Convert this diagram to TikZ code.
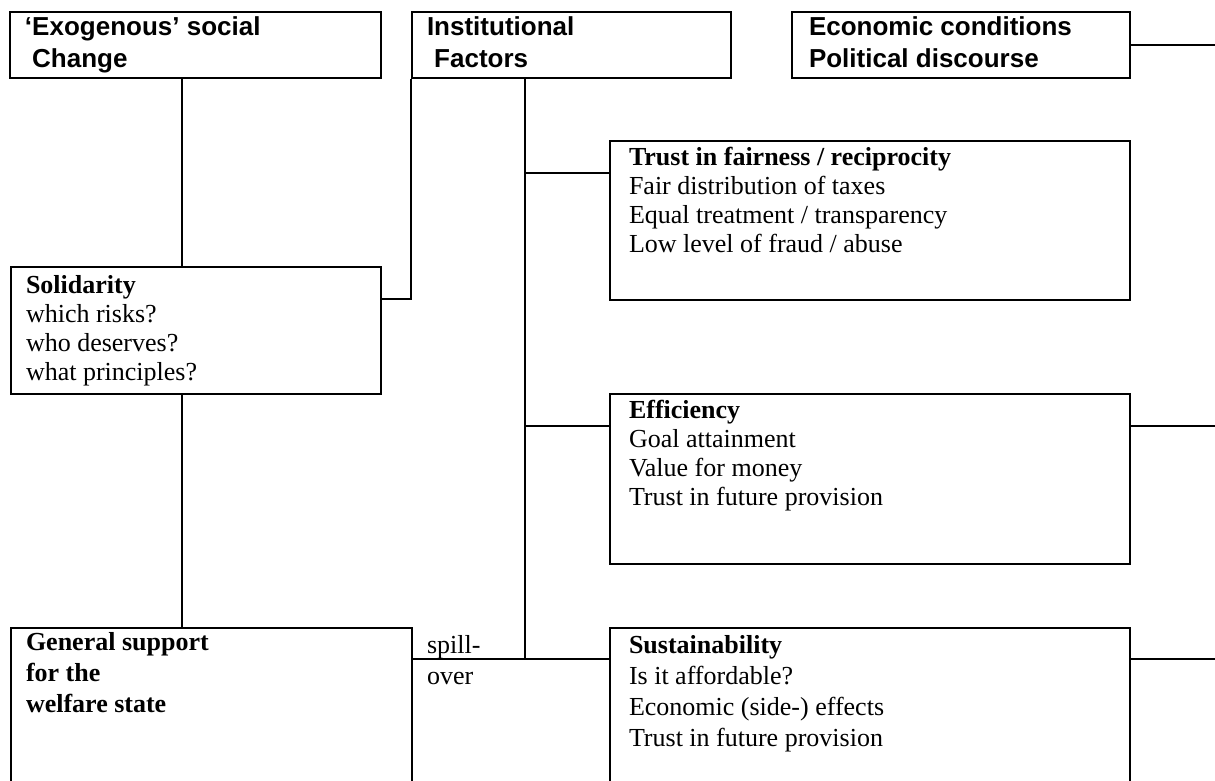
\documentclass[tikz,border=0pt]{standalone}
\usepackage{fontspec}
\setmainfont{Liberation Serif}
\newfontfamily\arialfont{Liberation Sans}

\begin{document}
\begin{tikzpicture}[x=0.5pt, y=-0.5pt, line width=1pt, black]

  \tikzstyle{box}=[draw, rectangle, anchor=north west, inner sep=0pt]
  \tikzstyle{head}=[anchor=base west, inner sep=0pt, align=left, font=\arialfont\bfseries\fontsize{13pt}{16pt}\selectfont]
  \tikzstyle{txt}=[anchor=base west, inner sep=0pt, align=left, font=\fontsize{13pt}{14.5pt}\selectfont]
  \tikzstyle{txtlow}=[txt, font=\fontsize{13pt}{15.5pt}\selectfont]

  \useasboundingbox (0,0) rectangle (1215,781);
  \clip (0,0) rectangle (1215,781);

  % top row (text nodes sit on their last baseline)
  \node[box, minimum width=185.5pt, minimum height=33pt] at (9,11) (exo) {};
  \node[box, minimum width=159.5pt, minimum height=33pt] at (411,11) (inst) {};
  \node[box, minimum width=169pt, minimum height=33pt] at (791,11) (econ) {};

  \node[head] at (24,68) (exoT) {‘Exogenous’ social\\\hspace*{3.6pt}Change};
  \node[head] at (426,68) (instT) {Institutional\\\hspace*{3.6pt}Factors};
  \node[head] at (808,68) (econT) {Economic conditions\\Political discourse};

  % left column
  \node[box, minimum width=185pt, minimum height=63.5pt] at (10,266) (solid) {};
  \node[box, minimum width=200.5pt, minimum height=100pt] at (10,627) (general) {};

  \node[txt] at (25,380) (solidT) {\textbf{Solidarity}\\which risks?\\who deserves?\\what principles?};
  \node[txtlow] at (25,712) (generalT) {\textbf{General support}\\\textbf{for the}\\\textbf{welfare state}};
  \node[txtlow] at (426,684) (spillT) {spill-\\over};

  % right column
  \node[box, minimum width=260pt, minimum height=79.5pt] at (609,140) (trust) {};
  \node[box, minimum width=260pt, minimum height=85pt] at (609,393) (effic) {};
  \node[box, minimum width=260pt, minimum height=100pt] at (609,627) (sustain) {};

  \node[txt] at (628,252) (trustT) {\textbf{Trust in fairness / reciprocity}\\Fair distribution of taxes\\Equal treatment / transparency\\Low level of fraud / abuse};
  \node[txt] at (628,505) (efficT) {\textbf{Efficiency}\\Goal attainment\\Value for money\\Trust in future provision};
  \node[txtlow] at (628,746) (sustainT) {\textbf{Sustainability}\\Is it affordable?\\Economic (side-) effects\\Trust in future provision};

  \coordinate (colA) at (182,0);
  \coordinate (trunk) at (525,659);
  \coordinate (bTrust) at (525,173);
  \coordinate (bEffic) at (525,426);
  \coordinate (solidJoin) at (380,299);
  \coordinate (rim) at (1215,0);

  \draw [] (exo.south -| colA) to (solid.north -| colA);
  \draw [] (solid.south -| colA) to (general.north -| colA);
  \draw [] (inst.south west) |- (solidJoin);

  \draw [] (inst.south -| trunk) to (trunk);
  \draw [] (bTrust) to (bTrust -| trust.west);
  \draw [] (bEffic) to (bEffic -| effic.west);
  \draw [] (general.east |- trunk) to (sustain.west |- trunk);

  \draw [] (econ.east) to (econ.east -| rim);
  \draw [] (bEffic -| effic.east) to (bEffic -| rim);
  \draw [] (trunk -| sustain.east) to (trunk -| rim);

\end{tikzpicture}
\end{document}
